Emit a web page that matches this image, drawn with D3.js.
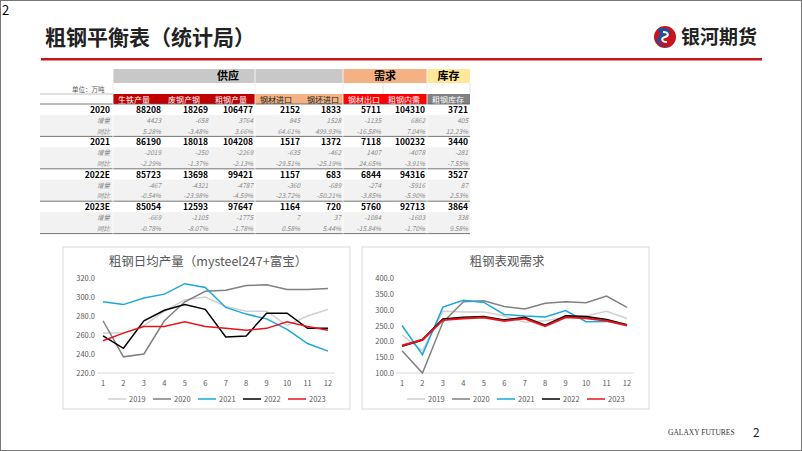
<!DOCTYPE html>
<html><head><meta charset="utf-8">
<script src="https://cdn.jsdelivr.net/npm/d3@7"></script>
<style>body{margin:0;background:#fff}svg{display:block;font-family:"Noto Sans CJK SC","Noto Sans",sans-serif}</style>
</head><body><svg id="s" width="802" height="451"></svg>
<script>
const months=[1,2,3,4,5,6,7,8,9,10,11,12];
const years=["2019","2020","2021","2022","2023"];
const yearColors=["#d0d0d0","#808080","#1aa7dc","#000000","#e8141c"];
const prod2019=[262,262,270,285,297,300,290,285,285,270,280,287];
const prod2020=[275,237,240,275,295,306,307,312,313,308,308,309];
const prod2021=[295,292,299,303,314,310,289,282,277,266,251,243];
const prod2022=[259,246,275,286,292,287,258,259,283,283,267,267];
const prod2023=[254,262,269,269,274,269,267,265,267,274,269,265];
const dem2019=[220,170,295,293,293,280,260,265,275,280,295,272];
const dem2020=[170,100,260,325,328,310,302,320,325,322,343,307];
const dem2021=[250,158,308,330,323,285,280,277,297,262,263,252];
const dem2022=[185,205,270,275,278,267,275,250,280,278,268,252];
const dem2023=[187,205,267,272,275,264,272,248,276,273,265,250];
const colHeaders=["生铁产量","废钢产钢","粗钢产量","钢材进口","钢坯进口","钢材出口","粗钢内需","粗钢库存"];
const rowYears=["2020","2021","2022E","2023E"];
const mainVals=[[88208,18269,106477,2152,1833,5711,104310,3721],[86190,18018,104208,1517,1372,7118,100232,3440],[85723,13698,99421,1157,683,6844,94316,3527],[85054,12593,97647,1164,720,5760,92713,3864]];
const incVals=[[4423,-658,3764,845,1528,-1135,6862,405],[-2019,-250,-2269,-635,-462,1407,-4078,-281],[-467,-4321,-4787,-360,-689,-274,-5916,87],[-669,-1105,-1775,7,37,-1084,-1603,338]];
const yoyVals=[["5.28%","-3.48%","3.66%","64.61%","499.93%","-16.58%","7.04%","12.23%"],["-2.29%","-1.37%","-2.13%","-29.51%","-25.19%","24.65%","-3.91%","-7.55%"],["-0.54%","-23.98%","-4.59%","-23.72%","-50.21%","-3.85%","-5.90%","2.53%"],["-0.78%","-8.07%","-1.78%","0.58%","5.44%","-15.84%","-1.70%","9.58%"]];

const svg=d3.select("#s");
svg.append("rect").attr("x",0.5).attr("y",0.5).attr("width",801).attr("height",450).attr("fill","#fff").attr("stroke","#777");
svg.append("text").attr("x",2).attr("y",15).attr("font-size",13).text("2");
svg.append("text").attr("x",45).attr("y",45).attr("font-size",21).attr("font-weight","bold").attr("fill","#222").text("粗钢平衡表（统计局）");
svg.append("rect").attr("x",41).attr("y",58).attr("width",721).attr("height",2.5).attr("fill","#c8141c");
// logo
const lg=svg.append("g").attr("transform","translate(665,37)");
lg.append("circle").attr("r",11).attr("fill","#c8141c");
lg.append("path").attr("d","M-4,-9 C6,-10 8,-2 0,0 C-8,2 -6,10 4,9 C-4,12 -12,4 -6,-1 C-1,-4 -12,-8 -4,-9Z").attr("fill","#1f4fa0");
lg.append("path").attr("d","M-2,-5 C4,-5 4,-1 0,0 C-4,1 -4,5 2,5").attr("stroke","#fff").attr("stroke-width",2).attr("fill","none");
svg.append("text").attr("x",681).attr("y",44).attr("font-size",19).attr("font-weight","bold").attr("fill","#222").text("银河期货");

// table
const colX=[113,163,210,255,302,343,383,427,470];
const xs=d3.scaleBand().domain(d3.range(8)).range([113,470]);
const hdr=[[0,5,"供应","#c8c8c8"],[5,7,"需求","#f4b183"],[7,8,"库存","#ffe699"]];
hdr.forEach(h=>{svg.append("rect").attr("x",colX[h[0]]).attr("y",69).attr("width",colX[h[1]]-colX[h[0]]).attr("height",14).attr("fill",h[3]);
svg.append("text").attr("x",(colX[h[0]]+colX[h[1]])/2).attr("y",80).attr("text-anchor","middle").attr("font-size",11).attr("font-weight","bold").text(h[2]);});
svg.append("text").attr("x",72).attr("y",92).attr("font-size",6.5).attr("fill","#555").text("单位：万吨");
svg.append("line").attr("x1",40).attr("x2",113).attr("y1",94).attr("y2",94).attr("stroke","#999").attr("stroke-width",0.6);
[113,255,343,427,470].forEach(x=>svg.append("line").attr("x1",x).attr("x2",x).attr("y1",83).attr("y2",94).attr("stroke","#ccc").attr("stroke-width",0.6));
svg.append("line").attr("x1",383).attr("x2",383).attr("y1",83).attr("y2",94).attr("stroke","#ccc").attr("stroke-width",0.6);
const hcol=["#c00000","#c00000","#c00000","#f4b183","#f4b183","#ff0000","#ff0000","#808080"];
colHeaders.forEach((c,i)=>{svg.append("rect").attr("x",colX[i]).attr("y",94).attr("width",colX[i+1]-colX[i]).attr("height",10).attr("fill",hcol[i]);
svg.append("text").attr("x",colX[i]+5).attr("y",102.5).attr("font-size",8).attr("fill",(i==3||i==4)?"#222":"#fff").text(c);});
const rh=10.8;
rowYears.forEach((y,r)=>{const y0=104+r*3*rh;
svg.append("rect").attr("x",40).attr("y",y0+rh).attr("width",430).attr("height",2*rh).attr("fill","#f2f2f2");
svg.append("line").attr("x1",40).attr("x2",470).attr("y1",y0).attr("y2",y0).attr("stroke","#555").attr("stroke-width",0.8);
svg.append("text").attr("x",110).attr("y",y0+9).attr("text-anchor","end").attr("font-size",8.5).attr("font-weight","bold").text(y);
svg.append("text").attr("x",110).attr("y",y0+rh+8).attr("text-anchor","end").attr("font-size",6.5).attr("font-style","italic").attr("fill","#888").text("增量");
svg.append("text").attr("x",110).attr("y",y0+2*rh+8).attr("text-anchor","end").attr("font-size",6.5).attr("font-style","italic").attr("fill","#888").text("同比");
for(let i=0;i<8;i++){const xr=colX[i+1]-2;
svg.append("text").attr("x",xr).attr("y",y0+9).attr("text-anchor","end").attr("font-size",8.5).attr("font-weight","bold").text(mainVals[r][i]);
svg.append("text").attr("x",xr).attr("y",y0+rh+8).attr("text-anchor","end").attr("font-size",6.5).attr("font-style","italic").attr("fill","#888").text(incVals[r][i]);
svg.append("text").attr("x",xr).attr("y",y0+2*rh+8).attr("text-anchor","end").attr("font-size",6.5).attr("font-style","italic").attr("fill","#888").text(yoyVals[r][i]);}
});
svg.append("line").attr("x1",40).attr("x2",470).attr("y1",104+12*rh).attr("y2",104+12*rh).attr("stroke","#555").attr("stroke-width",0.8);
[113,255,343,427].forEach(x=>svg.append("line").attr("x1",x).attr("x2",x).attr("y1",69).attr("y2",104+12*rh).attr("stroke","#fff").attr("stroke-width",0.8));

function chart(ox,title,data,dom,ticks,fmtY){
 const g=svg.append("g");
 g.append("rect").attr("x",ox).attr("y",247).attr("width",287).attr("height",162).attr("fill","#fff").attr("stroke","#d9d9d9");
 g.append("text").attr("x",ox+145).attr("y",266).attr("text-anchor","middle").attr("font-size",12.5).attr("fill","#595959").text(title);
 const x=d3.scalePoint().domain(months).range([ox+40,ox+265]);
 const y=d3.scaleLinear().domain(dom).range([373,278]);
 ticks.forEach(t=>{g.append("text").attr("x",ox+32).attr("y",y(t)+3).attr("text-anchor","end").attr("font-size",7.5).attr("fill","#595959").text(t.toFixed(1));});
 g.append("line").attr("x1",ox+34).attr("x2",ox+272).attr("y1",373).attr("y2",373).attr("stroke","#d9d9d9");
 months.forEach(m=>g.append("text").attr("x",x(m)).attr("y",386).attr("text-anchor","middle").attr("font-size",7.5).attr("fill","#595959").text(m));
 const ln=d3.line().x((d,i)=>x(months[i])).y(d=>y(d));
 data.forEach((d,k)=>g.append("path").attr("d",ln(d)).attr("fill","none").attr("stroke",yearColors[k]).attr("stroke-width",k>=3&&fmtY?2:1.5));
 years.forEach((yy,k)=>{const lx=ox+45+k*45;
 g.append("line").attr("x1",lx).attr("x2",lx+18).attr("y1",399).attr("y2",399).attr("stroke",yearColors[k]).attr("stroke-width",1.5);
 g.append("text").attr("x",lx+21).attr("y",402).attr("font-size",7.5).attr("fill","#595959").text(yy);});
}
chart(63,"粗钢日均产量（mysteel247+富宝）",[prod2019,prod2020,prod2021,prod2022,prod2023],[220,320],[220,240,260,280,300,320],false);
chart(362,"粗钢表观需求",[dem2019,dem2020,dem2021,dem2022,dem2023],[100,400],[100,150,200,250,300,350,400],true);

svg.append("text").attr("x",668).attr("y",435).attr("font-size",7.5).attr("font-family","Liberation Serif").attr("fill","#333").text("GALAXY FUTURES");
svg.append("text").attr("x",753).attr("y",437).attr("font-size",12).attr("fill","#222").text("2");
</script></body></html>
